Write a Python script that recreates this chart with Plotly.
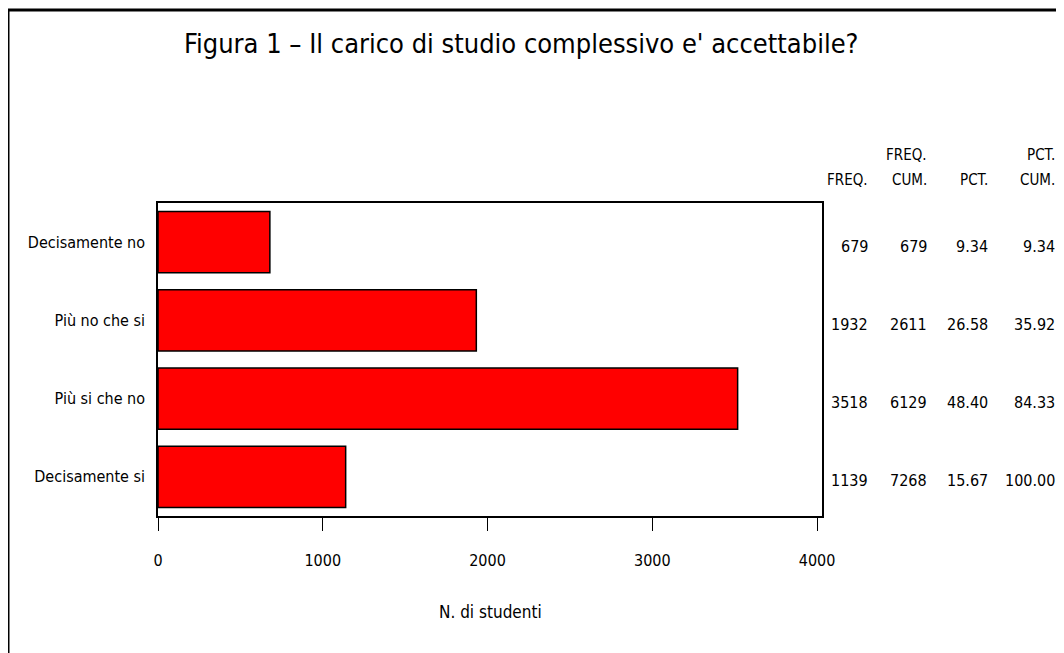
import plotly.graph_objects as go

categories = ['Decisamente no', 'Più no che si', 'Più si che no', 'Decisamente si']
freq = [679, 1932, 3518, 1139]
freq_cum = [679, 2611, 6129, 7268]
pct = ['9.34', '26.58', '48.40', '15.67']
pct_cum = ['9.34', '35.92', '84.33', '100.00']
x_ticks = [0, 1000, 2000, 3000, 4000]
header_top = ['', 'FREQ.', '', 'PCT.']
header_bottom = ['FREQ.', 'CUM.', 'PCT.', 'CUM.']

W, H = 1064, 653
OFF = 8  # page body margin of the html
# plot area as seen on screen
left, right, top, bottom = 158, 822, 203, 516
L, T = left - OFF, top - OFF
R, B = W - (right - OFF), H - (bottom - OFF)
pw = right - left
ph = bottom - top

narrow = "Liberation Sans Narrow, DejaVu Sans Condensed, Arial Narrow, sans-serif"


def px_x(p):
    return (p - left) / pw


def px_y(p):
    return (bottom - p) / ph


fig = go.Figure(go.Bar(x=freq, y=categories, orientation='h',
                       marker=dict(color='#ff0000', line=dict(color='black', width=1.5)),
                       hoverinfo='skip'))

fig.update_layout(
    width=W, height=H,
    margin=dict(l=L, r=R, t=T, b=B),
    paper_bgcolor='white', plot_bgcolor='white',
    bargap=0.22,
    showlegend=False,
    font=dict(family=narrow, color='black'),
)

fig.update_xaxes(range=[0, 4030], tickvals=x_ticks, ticks='outside', ticklen=13,
                 tickwidth=1, tickcolor='black', showline=True, mirror=True,
                 linecolor='black', linewidth=1.5, showgrid=False, zeroline=False,
                 tickfont=dict(size=16), ticklabelstandoff=16, automargin=False)
fig.update_yaxes(categoryorder='array', categoryarray=categories, autorange='reversed',
                 ticks='', showline=True, mirror=True, linecolor='black', linewidth=1.5,
                 showgrid=False, tickfont=dict(size=16), ticklabelstandoff=8,
                 automargin=False)

# table on the right
col_right = [870, 929, 990, 1057]
columns = [[str(v) for v in freq], [str(v) for v in freq_cum], pct, pct_cum]
for cx, vals, h1, h2 in zip(col_right, columns, header_top, header_bottom):
    for cat, v in zip(categories, vals):
        fig.add_annotation(x=px_x(cx), xref='paper', y=cat, yref='y', yshift=-4,
                           text=v, showarrow=False, xanchor='right', yanchor='middle',
                           font=dict(size=16))
    if h1:
        fig.add_annotation(x=px_x(cx), xref='paper', y=px_y(155), yref='paper',
                           text=h1, showarrow=False, xanchor='right', yanchor='middle',
                           font=dict(size=15))
    fig.add_annotation(x=px_x(cx), xref='paper', y=px_y(180), yref='paper',
                       text=h2, showarrow=False, xanchor='right', yanchor='middle',
                       font=dict(size=15))

# title and axis title
fig.add_annotation(x=px_x(521), xref='paper', y=px_y(44), yref='paper',
                   text="Figura 1 – Il carico di studio complessivo e' accettabile?",
                   showarrow=False, xanchor='center', yanchor='middle',
                   font=dict(size=27))
fig.add_annotation(x=0.5, xref='paper', y=px_y(612), yref='paper',
                   text='N. di studenti', showarrow=False, xanchor='center', yanchor='middle',
                   font=dict(size=17))

# outer frame
fig.add_shape(type='rect', xref='paper', yref='paper',
              x0=px_x(8), x1=px_x(1075), y0=px_y(665), y1=px_y(10),
              line=dict(color='black', width=3))

fig.write_html("out.html")
